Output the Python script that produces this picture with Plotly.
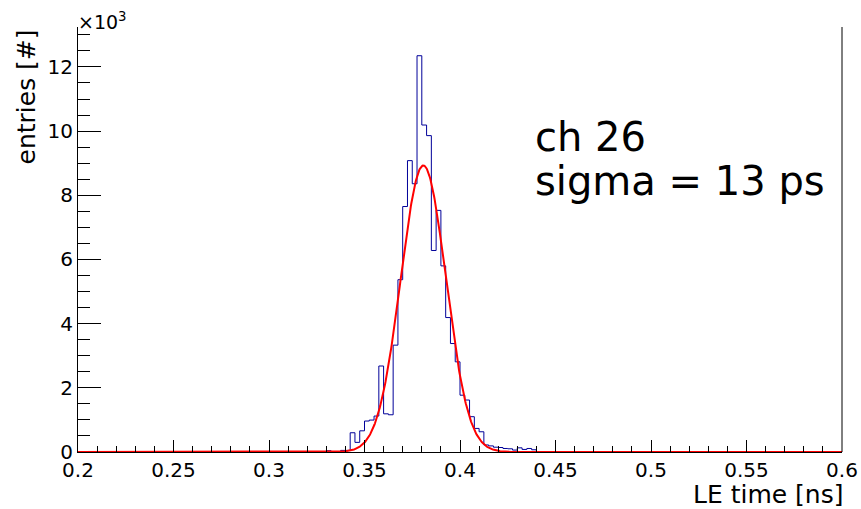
import numpy as np
import plotly.graph_objects as go

# ---- data ----
x_min, x_max = 0.2, 0.6
bin_width = 0.0025
first_bin = 52  # index of first listed bin (bin k spans 0.2 + k*w .. 0.2+(k+1)*w)
counts = [40, 0, 0, 50, 50, 600, 300, 660, 965, 995, 1120, 2680, 1190, 1160,
          3330, 5370, 7650, 9080, 8360, 12350, 10190, 9860, 6280, 7530, 5800,
          4190, 3380, 2810, 1770, 1620, 1100, 735, 630, 220, 190, 150, 140,
          110, 100, 60, 130, 80, 110, 70]
fit_amp = 8930
fit_mean = 0.3808
fit_sigma = 0.0118
x_tick_vals = [0.2, 0.25, 0.3, 0.35, 0.4, 0.45, 0.5, 0.55, 0.6]
x_tick_text = ["0.2", "0.25", "0.3", "0.35", "0.4", "0.45", "0.5", "0.55", "0.6"]
y_tick_vals = [0, 2000, 4000, 6000, 8000, 10000, 12000]
y_tick_text = ["0", "2", "4", "6", "8", "10", "12"]
y_max = 13245

# ---- build histogram steps ----
n_bins = int(round((x_max - x_min) / bin_width))
full = np.zeros(n_bins)
full[first_bin:first_bin + len(counts)] = counts
edges = x_min + bin_width * np.arange(n_bins + 1)

fx = np.linspace(x_min, x_max, 1601)
fy = fit_amp * np.exp(-0.5 * ((fx - fit_mean) / fit_sigma) ** 2)

FONT = "DejaVu Sans"

fig = go.Figure()
fig.add_trace(go.Scatter(x=list(edges[:-1]) + [edges[-1]],
                         y=list(full) + [full[-1]],
                         mode="lines", line=dict(color="#000099", width=1, shape="hv"),
                         hoverinfo="skip"))
fig.add_trace(go.Scatter(x=fx, y=fy, mode="lines",
                         line=dict(color="#ff0000", width=2), hoverinfo="skip"))

fig.update_layout(
    width=861, height=509,
    margin=dict(l=78, r=19, t=27, b=57, autoexpand=False),
    plot_bgcolor="white", paper_bgcolor="white",
    showlegend=False,
    font=dict(family=FONT, color="black"),
)
fig.update_xaxes(
    automargin=False,
    range=[x_min, x_max], tickmode="array", tickvals=x_tick_vals, ticktext=x_tick_text,
    ticks="inside", ticklen=12, tickwidth=1, tickcolor="black",
    minor=dict(ticks="inside", ticklen=6, tickmode="linear", tick0=0.2, dtick=0.01,
               tickcolor="black", tickwidth=1),
    showline=True, linecolor="black", linewidth=1, showgrid=False, zeroline=False,
    tickfont=dict(size=20, family=FONT, color="black"),
)
fig.update_yaxes(
    automargin=False,
    range=[0, y_max], tickmode="array", tickvals=y_tick_vals, ticktext=y_tick_text,
    ticks="inside", ticklen=23, tickwidth=1, tickcolor="black",
    minor=dict(ticks="inside", ticklen=12, tickmode="linear", tick0=0, dtick=500,
               tickcolor="black", tickwidth=1),
    showline=True, linecolor="black", linewidth=1, showgrid=False, zeroline=False,
    tickfont=dict(size=20, family=FONT, color="black"),
)
# right frame line
fig.add_shape(type="line", xref="paper", yref="paper", x0=1, x1=1, y0=0, y1=1,
              line=dict(color="black", width=1))

fig.add_annotation(text="×10<sup>3</sup>", xref="paper", yref="paper", x=0, y=1,
                   xanchor="left", yanchor="bottom", yshift=-8, xshift=-2, showarrow=False,
                   font=dict(size=19, family=FONT))
fig.add_annotation(text="entries [#]", xref="paper", yref="paper", x=-52 / 764, y=1,
                   xanchor="center", yanchor="top", textangle=-90, yshift=-1,
                   showarrow=False, font=dict(size=25, family=FONT))
fig.add_annotation(text="LE time [ns]", xref="paper", yref="paper", x=1, y=-24 / 425,
                   xanchor="right", yanchor="top", showarrow=False, xshift=2, yshift=-3,
                   borderpad=0, font=dict(size=25, family=FONT))
fig.add_annotation(text="ch 26", xref="paper", yref="paper", x=(533 - 78) / 764,
                   y=(452 - 137) / 425, xanchor="left", yanchor="middle",
                   showarrow=False, font=dict(size=40, family=FONT))
fig.add_annotation(text="sigma = 13 ps", xref="paper", yref="paper", x=(533 - 78) / 764,
                   y=(452 - 181) / 425, xanchor="left", yanchor="middle",
                   showarrow=False, font=dict(size=40, family=FONT))

fig.write_html("out.html")
